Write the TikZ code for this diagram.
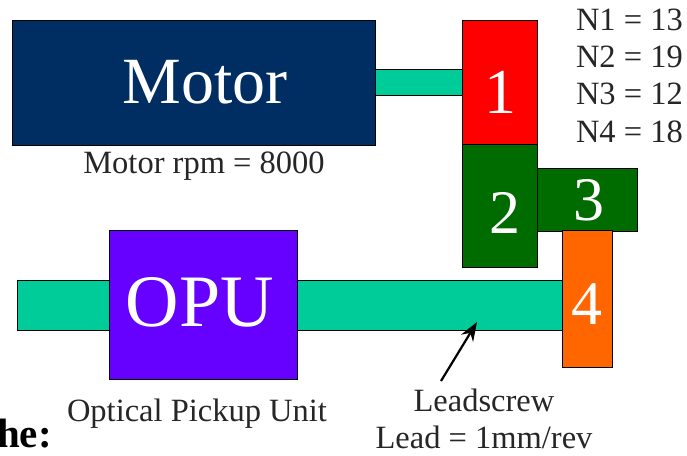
\documentclass[tikz,border=0pt]{standalone}
\usepackage{fontspec}
\usetikzlibrary{arrows.meta}
\setmainfont{Liberation Serif}
\begin{document}
\begin{tikzpicture}[x=1pt,y=-1pt,
box/.style={draw=black,line width=0.8pt,anchor=north west,inner sep=0pt},
big/.style={text=white,inner sep=0pt},
lab/.style={text=black!85,inner sep=0pt,font=\fontsize{32.5}{32.5}\selectfont}]
\useasboundingbox (0,0) rectangle (687,455);
\definecolor{navy}{RGB}{0,45,98}
\definecolor{teal1}{RGB}{0,204,153}
\definecolor{red1}{RGB}{255,0,0}
\definecolor{green1}{RGB}{0,108,0}
\definecolor{orange1}{RGB}{255,102,0}
\definecolor{purple1}{RGB}{102,0,255}
\node[box,fill=teal1,minimum width=90pt,minimum height=26pt] (s1) at (374,69) {};
\node[box,fill=teal1,minimum width=546pt,minimum height=50pt] (s2) at (17,280) {};
\node[box,fill=navy,minimum width=363pt,minimum height=125pt] (motor) at (12,20) {};
\node[box,fill=red1,minimum width=75pt,minimum height=124pt] (g1) at (462,20) {};
\node[box,fill=green1,minimum width=75pt,minimum height=123pt] (g2) at (462,144) {};
\node[box,fill=green1,minimum width=100pt,minimum height=63pt] (g3) at (537,168) {};
\node[box,fill=orange1,minimum width=50pt,minimum height=137pt] (g4) at (562,230) {};
\node[box,fill=purple1,minimum width=188pt,minimum height=149pt] (opu) at (109,230) {};
\node[big,font=\fontsize{66}{66}\selectfont] (tm) at (205,82) {Motor};
\node[big,font=\fontsize{64}{64}\selectfont] (t1) at (500,92) {1};
\node[big,font=\fontsize{62}{62}\selectfont] (t2) at (505,213) {2};
\node[big,font=\fontsize{62}{62}\selectfont] (t3) at (589,200) {3};
\node[big,font=\fontsize{62}{62}\selectfont] (t4) at (587,304) {4};
\node[big,font=\fontsize{74}{74}\selectfont] (to) at (200,302) {OPU};
\node[lab] (rpm) at (204,166) {Motor rpm = 8000};
\node[lab,anchor=east] (n1) at (683,20) {N1 = 13};
\node[lab,anchor=east] (n2) at (683,57) {N2 = 19};
\node[lab,anchor=east] (n3) at (683,94) {N3 = 12};
\node[lab,anchor=east] (n4) at (683,132) {N4 = 18};
\node[lab] (ou) at (197,414) {Optical Pickup Unit};
\node[lab] (ls) at (484,400) {Leadscrew};
\node[lab] (lead) at (484,437) {Lead = 1mm/rev};
\node[text=black,inner sep=0pt,anchor=base east,font=\bfseries\fontsize{41}{41}\selectfont] (the) at (52,447) {he:};
\coordinate (tip) at (477,322);
\coordinate (tail) at (441,381);
\draw[line width=2.2pt,-{Stealth[length=19pt,width=14pt]}] (tail) -- (tip);
\end{tikzpicture}
\end{document}
